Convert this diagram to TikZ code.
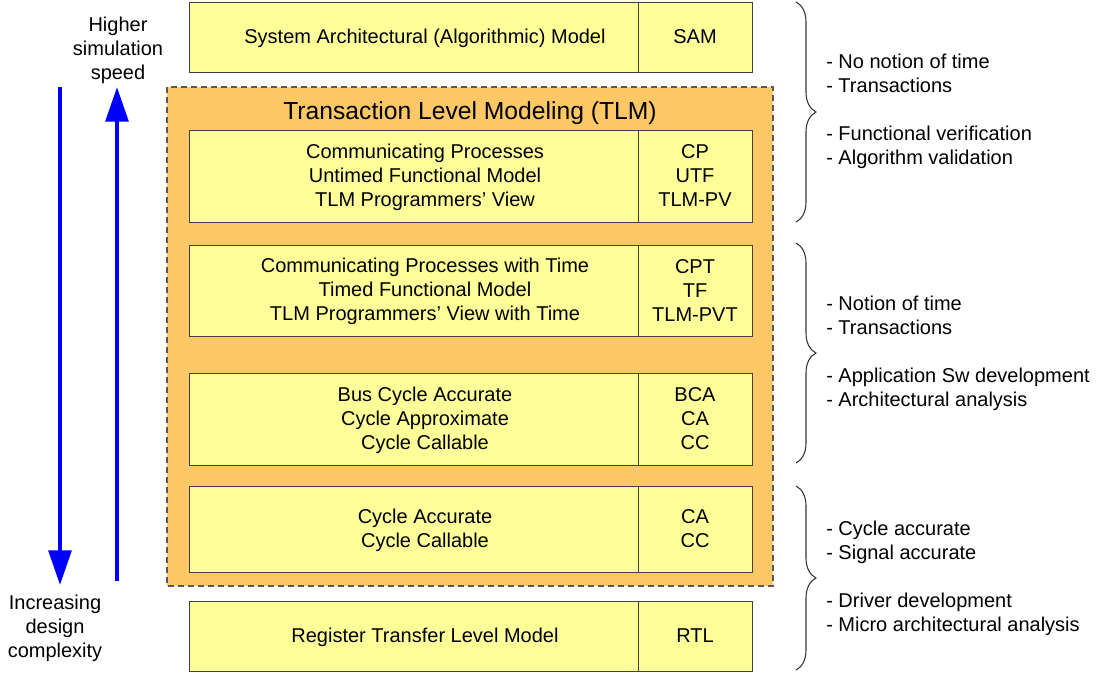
\documentclass[tikz,border=0pt]{standalone}
\usepackage{fontspec}
\setmainfont{Liberation Sans}
\usetikzlibrary{arrows.meta,decorations.pathreplacing}
\definecolor{cellyellow}{HTML}{FFFF99}
\definecolor{tlmorange}{HTML}{FDC865}

\begin{document}
\begin{tikzpicture}[x=0.75pt,y=-0.75pt,
    cell/.style={draw=black!75,fill=cellyellow,line width=0.75pt},
    rowtext/.style={align=center,inner sep=0pt,font=\fontsize{15}{18}\selectfont},
    sidetext/.style={align=left,anchor=west,inner sep=0pt,font=\fontsize{15}{18}\selectfont},
    bigarrow/.style={blue,line width=3pt,-{Triangle[length=26pt,width=17pt]}},
    rbrace/.style={decorate,decoration={brace,amplitude=15pt},line width=0.8pt,black!80}]
  \useasboundingbox (0,0) rectangle (1100,672);

  % TLM area
  \filldraw[fill=tlmorange,draw=black!65,dash pattern=on 4.5pt off 3pt,line width=0.9pt]
    (167,87) rectangle (773,586);
  \node[rowtext,font=\fontsize{18.5}{22}\selectfont] (tlm) at (470,113) {Transaction Level Modeling (TLM)};

  % Model rows
  \foreach \top/\bot/\name/\txt/\abbr in {
      2/72/sam/{System Architectural (Algorithmic) Model}/{SAM},
      130/222/cp/{Communicating Processes\\Untimed Functional Model\\TLM Programmers’ View}/{CP\\UTF\\TLM-PV},
      245/336/cpt/{Communicating Processes with Time\\Timed Functional Model\\TLM Programmers’ View with Time}/{CPT\\TF\\TLM-PVT},
      373/465/bca/{Bus Cycle Accurate\\Cycle Approximate\\Cycle Callable}/{BCA\\CA\\CC},
      486/572/ca/{Cycle Accurate\\Cycle Callable}/{CA\\CC},
      601/671/rtl/{Register Transfer Level Model}/{RTL}} {
    \filldraw[cell] (189,\top) rectangle (638,\bot);
    \filldraw[cell] (638,\top) rectangle (752,\bot);
    \node[rowtext] (\name) at (425,{(\top+\bot)/2+1}) {\txt};
    \node[rowtext] (\name-abbr) at (695,{(\top+\bot)/2}) {\abbr};
  }

  % Braces and notes
  \draw[rbrace] (796,2) -- (796,222);
  \draw[rbrace] (796,243) -- (796,463);
  \draw[rbrace] (796,486) -- (796,670);
  \node[sidetext] (note1) at (826,111) {- No notion of time\\- Transactions\\[18pt]- Functional verification\\- Algorithm validation};
  \node[sidetext] (note2) at (826,353) {- Notion of time\\- Transactions\\[18pt]- Application Sw development\\- Architectural analysis};
  \node[sidetext] (note3) at (826,578) {- Cycle accurate\\- Signal accurate\\[18pt]- Driver development\\- Micro architectural analysis};

  % Speed / complexity arrows
  \node[rowtext] (speed) at (118,50) {Higher\\simulation\\speed};
  \node[rowtext] (complexity) at (55,628) {Increasing\\design\\complexity};
  \coordinate (down-start) at (60,87);
  \coordinate (down-end) at (60,585);
  \coordinate (up-start) at (117,581);
  \coordinate (up-end) at (117,87);
  \draw[bigarrow] (down-start) -- (down-end);
  \draw[bigarrow] (up-start) -- (up-end);
\end{tikzpicture}
\end{document}
